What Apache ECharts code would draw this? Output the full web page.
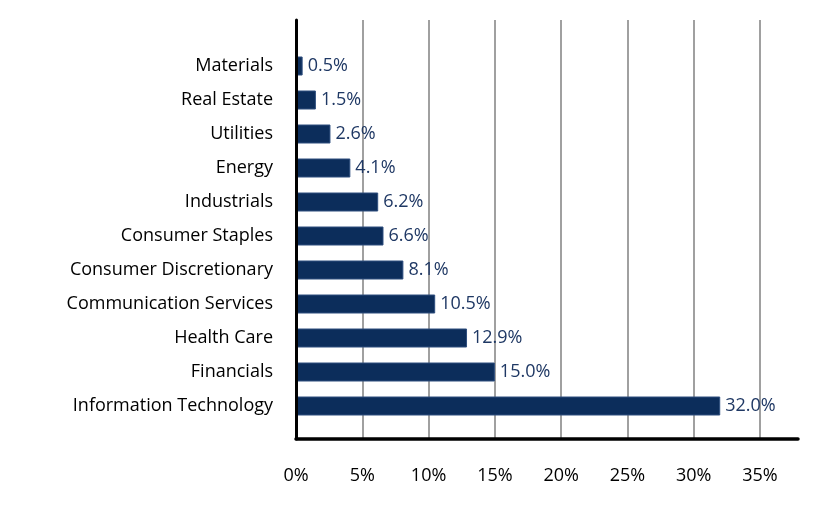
<!DOCTYPE html>
<html><head><meta charset="utf-8">
<script src="https://cdn.jsdelivr.net/npm/echarts@6/dist/echarts.min.js"></script>
<style>html,body{margin:0;padding:0;background:#fff}#c{width:840px;height:516px}</style>
</head><body><div id="c"></div>
<script>
const categories = ['Information Technology','Financials','Health Care','Communication Services','Consumer Discretionary','Consumer Staples','Industrials','Energy','Utilities','Real Estate','Materials'];
const values = [32.0,15.0,12.9,10.5,8.1,6.6,6.2,4.1,2.6,1.5,0.5];
const xTicks = [0,5,10,15,20,25,30,35];

const FONT = '"Open Sans"';
const chart = echarts.init(document.getElementById('c'));
chart.setOption({
  animation:false,
  grid:[
    {left:296,right:80,top:49,height:374},
    {left:296,right:42,top:20,bottom:77},
    {left:296,right:80,top:20,bottom:77}
  ],
  xAxis:[
    {gridIndex:0,type:'value',min:0,max:35,interval:5,show:false},
    {gridIndex:1,type:'value',min:0,max:38,axisLine:{show:true,lineStyle:{color:'#000',width:3.5}},axisTick:{show:false},axisLabel:{show:false},splitLine:{show:false}},
    {gridIndex:2,type:'value',min:xTicks[0],max:xTicks[xTicks.length-1],interval:5,axisLine:{show:false},axisTick:{show:false},
      axisLabel:{margin:28,color:'#000',fontSize:18,fontFamily:FONT,formatter:v=>v+'%'},
      splitLine:{show:true,lineStyle:{color:'#a0a0a0',width:2}}}
  ],
  yAxis:[
    {gridIndex:0,type:'category',data:categories,axisLine:{show:false},axisTick:{show:false},
      axisLabel:{margin:23,color:'#000',fontSize:18,fontFamily:FONT,padding:[0,0,2,0]}},
    {gridIndex:1,type:'value',min:0,max:1,axisLine:{show:true,onZero:false,lineStyle:{color:'#000',width:3}},axisTick:{show:false},axisLabel:{show:false},splitLine:{show:false},z:5},
    {gridIndex:2,type:'value',min:0,max:1,show:false}
  ],
  series:[{
    type:'bar',xAxisIndex:0,yAxisIndex:0,data:values,barWidth:19,z:3,
    itemStyle:{color:'#0c2d5b',borderColor:'#2f4f7f',borderWidth:1},
    label:{show:true,position:'right',distance:5,color:'#1f3864',fontSize:18,fontFamily:FONT,padding:[0,0,2,0],formatter:p=>p.value.toFixed(1)+'%'}
  }]
});
</script></body></html>
